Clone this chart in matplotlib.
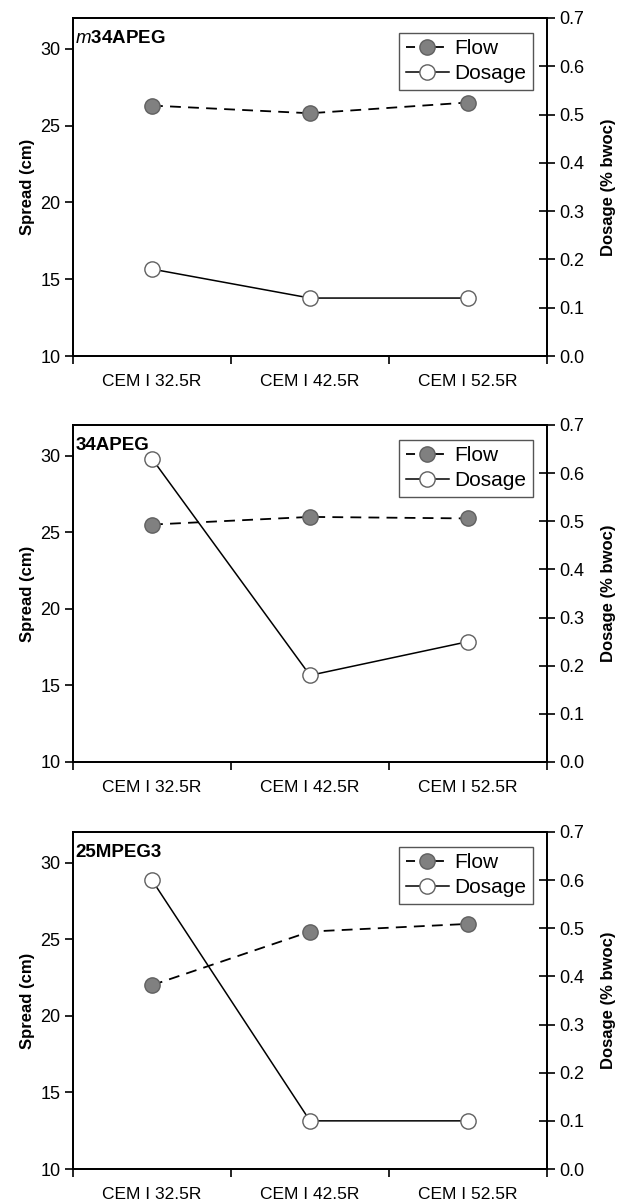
import matplotlib
matplotlib.use("Agg")
import matplotlib.pyplot as plt
from matplotlib.lines import Line2D

plt.rcParams['font.family'] = ['Liberation Sans', 'DejaVu Sans']
plt.rcParams['mathtext.fontset'] = 'custom'
plt.rcParams['mathtext.it'] = 'Liberation Sans:italic'
plt.rcParams['mathtext.rm'] = 'Liberation Sans'

# data
cements = ["CEM I 32.5R", "CEM I 42.5R", "CEM I 52.5R"]
titles = ["$\\mathit{m}$34APEG", "34APEG", "25MPEG3"]
flow = [
    [26.3, 25.8, 26.5],
    [25.5, 26.0, 25.9],
    [22.0, 25.5, 26.0],
]
dosage = [
    [0.18, 0.12, 0.12],
    [0.63, 0.18, 0.25],
    [0.60, 0.10, 0.10],
]

W, H = 618, 1204
fig = plt.figure(figsize=(W / 100, H / 100), dpi=100)

# panel boxes in pixels
left_px, right_px = 73, 547
tops = [18, 425, 832]
bottoms = [356, 762, 1169]

xpos = [0.5, 1.5, 2.5]

for i in range(3):
    ax = fig.add_axes([left_px / W, 1 - bottoms[i] / H,
                       (right_px - left_px) / W, (bottoms[i] - tops[i]) / H])
    ax2 = ax.twinx()

    ax.plot(xpos, flow[i], color='black', lw=1.3, dashes=(6, 4),
            marker='o', ms=11, mfc='#808080', mec='#606060', mew=1.0)
    ax2.plot(xpos, dosage[i], color='black', lw=1.1,
             marker='o', ms=11, mfc='white', mec='#606060', mew=1.0)

    ax.set_xlim(0, 3)
    ax.set_ylim(10, 32)
    ax2.set_ylim(0, 0.7)

    ax.set_yticks([10, 15, 20, 25, 30])
    ax2.set_yticks([0.0, 0.1, 0.2, 0.3, 0.4, 0.5, 0.6, 0.7])
    ax2.set_yticklabels(["%.1f" % v for v in ax2.get_yticks()])

    ax.set_xticks([0, 1, 2, 3])
    ax.set_xticklabels([])
    ax.set_xticks(xpos, minor=True)
    ax.set_xticklabels(cements, minor=True)
    ax.tick_params(axis='x', which='minor', length=0, pad=13, labelsize=12.5)
    ax.tick_params(axis='x', which='major', direction='out', length=6, width=1.2)
    ax.tick_params(axis='y', direction='out', length=6, width=1.2, labelsize=13, pad=3)
    ax2.tick_params(axis='y', direction='inout', length=12, width=1.2, labelsize=13, pad=3)

    for a in (ax, ax2):
        for sp in a.spines.values():
            sp.set_linewidth(1.3)

    ax.set_ylabel("Spread (cm)", fontsize=12, fontweight='bold', labelpad=4)
    ax2.set_ylabel("Dosage (% bwoc)", fontsize=12, fontweight='bold', labelpad=12)

    ax.text(0.005, 0.965, titles[i], transform=ax.transAxes, fontsize=13.5,
            fontweight='bold', ha='left', va='top')

    handles = [
        Line2D([], [], color='black', lw=1.3, dashes=(5, 3), marker='o', ms=11,
               mfc='#808080', mec='#606060'),
        Line2D([], [], color='black', lw=1.1, marker='o', ms=11,
               mfc='white', mec='#606060'),
    ]
    leg = ax2.legend(handles, ["Flow", "Dosage"], loc='upper right',
                     bbox_to_anchor=(0.97, 0.956), borderaxespad=0,
                     fontsize=15, fancybox=False, framealpha=1,
                     edgecolor='#555555', handlelength=2.1, handletextpad=0.25,
                     borderpad=0.3, labelspacing=0.3)
    leg.get_frame().set_linewidth(1.0)

fig.savefig("out.png", dpi=100)
